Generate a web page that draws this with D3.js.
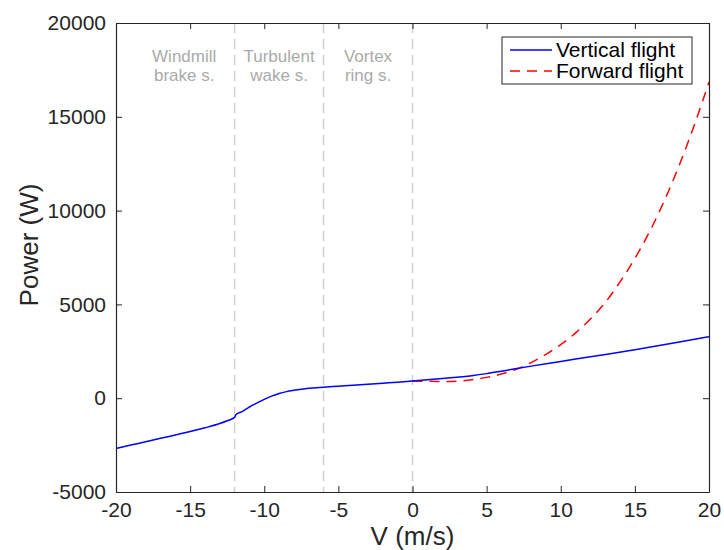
<!DOCTYPE html>
<html lang="en">
<head>
<meta charset="UTF-8">
<title>Power vs V</title>
<script src="https://d3js.org/d3.v7.min.js"></script>
<style>
  body { margin: 0; background: #fff; font-family: "Liberation Sans", Arial, sans-serif; }
</style>
</head>
<body>
<svg id="chart" width="724" height="550"></svg>
<script>
// Vertical flight (V in m/s, P in W)
const vertV = [-20, -19, -18, -17, -16, -15, -14, -13, -12.5, -12, -11.9, -11.5, -11, -10.5, -10, -9.5, -9, -8.5, -8, -7.5, -7, -6, -5, -4, -3, -2, -1, 0, 2, 4, 5, 6, 8, 10, 12, 15, 18, 20];
const vertP = [-2680, -2500, -2320, -2140, -1960, -1780, -1580, -1350, -1200, -1020, -870, -720, -470, -260, -60, 110, 250, 350, 420, 480, 530, 590, 640, 690, 745, 800, 855, 915, 1050, 1200, 1310, 1440, 1710, 1960, 2210, 2580, 2990, 3280];

// Forward flight
const fwdV = [0, 1, 2, 3, 4, 5, 6, 7, 8, 9, 10, 11, 12, 13, 14, 15, 16, 17, 18, 19, 20];
const fwdP = [915, 900, 890, 910, 980, 1110, 1290, 1540, 1900, 2340, 2860, 3480, 4220, 5100, 6200, 7450, 8890, 10550, 12430, 14540, 16850];

// flight-state boundaries and labels
const boundaries = [-12, -6, 0];
const regionLabels = [
  { v: -15.4, lines: ["Windmill", "brake s."] },
  { v: -9, lines: ["Turbulent", "wake s."] },
  { v: -3, lines: ["Vortex", "ring s."] }
];

const xTicks = [-20, -15, -10, -5, 0, 5, 10, 15, 20];
const yTicks = [-5000, 0, 5000, 10000, 15000, 20000];

const margin = { top: 23, right: 15, bottom: 58, left: 116 };
const W = 724, H = 550;
const width = W - margin.left - margin.right;
const height = H - margin.top - margin.bottom;

const svg = d3.select("#chart");
const g = svg.append("g").attr("transform", `translate(${margin.left},${margin.top})`);

const x = d3.scaleLinear().domain([-20, 20]).range([0, width]);
const y = d3.scaleLinear().domain([-5000, 20000]).range([height, 0]);

const axisColor = "#262626";
const fontSize = 21;

// boundary lines
g.selectAll(".bound")
  .data(boundaries)
  .enter().append("line")
  .attr("x1", d => x(d)).attr("x2", d => x(d))
  .attr("y1", 0).attr("y2", height)
  .attr("stroke", "#d0d0d0")
  .attr("stroke-width", 1.5)
  .attr("stroke-dasharray", "10,6");

// region labels, one text per line
regionLabels.forEach(r => {
  r.lines.forEach((s, i) => {
    g.append("text")
      .attr("x", x(r.v))
      .attr("y", 39 + i * 19)
      .attr("text-anchor", "middle")
      .attr("fill", "#aaaaaa")
      .style("font-size", "17px")
      .text(s);
  });
});

// curves
const vertData = vertV.map((v, i) => ({ v, p: vertP[i] }));
const fwdData = fwdV.map((v, i) => ({ v, p: fwdP[i] }));
const line = d3.line().x(d => x(d.v)).y(d => y(d.p)).curve(d3.curveMonotoneX);

g.append("path").datum(fwdData)
  .attr("d", line)
  .attr("fill", "none")
  .attr("stroke", "#ff0000")
  .attr("stroke-width", 1.5)
  .attr("stroke-dasharray", "10,7");

g.append("path").datum(vertData)
  .attr("d", line)
  .attr("fill", "none")
  .attr("stroke", "#0000ff")
  .attr("stroke-width", 1.5);

// axes (box with inward ticks)
function styleAxis(sel) {
  sel.select(".domain").attr("stroke", axisColor).attr("stroke-width", 1.2);
  sel.selectAll(".tick line").attr("stroke", axisColor);
  sel.selectAll(".tick text").attr("fill", axisColor).style("font-size", fontSize + "px")
    .style("font-family", "Liberation Sans, Arial, sans-serif");
}
const plain = d => String(d);

const xAxis = g.append("g").attr("transform", `translate(0,${height})`)
  .call(d3.axisBottom(x).tickValues(xTicks).tickFormat(plain).tickSizeInner(-6).tickSizeOuter(0).tickPadding(10));
styleAxis(xAxis);

const xTop = g.append("g")
  .call(d3.axisTop(x).tickValues(xTicks).tickSizeInner(-6).tickSizeOuter(0).tickFormat(""));
styleAxis(xTop);

const yAxis = g.append("g")
  .call(d3.axisLeft(y).tickValues(yTicks).tickFormat(plain).tickSizeInner(-6).tickSizeOuter(0).tickPadding(10));
styleAxis(yAxis);

const yRight = g.append("g").attr("transform", `translate(${width},0)`)
  .call(d3.axisRight(y).tickValues(yTicks).tickSizeInner(-6).tickSizeOuter(0).tickFormat(""));
styleAxis(yRight);

// axis labels
svg.append("text")
  .attr("x", margin.left + x(0))
  .attr("y", 545)
  .attr("text-anchor", "middle")
  .attr("fill", axisColor)
  .style("font-size", "26px")
  .text("V (m/s)");

svg.append("text")
  .attr("transform", `translate(38,245) rotate(-90)`)
  .attr("text-anchor", "middle")
  .attr("fill", axisColor)
  .style("font-size", "26px")
  .text("Power (W)");

// legend
const legend = g.append("g").attr("transform", `translate(${502 - margin.left},${37 - margin.top})`);
legend.append("rect")
  .attr("width", 190).attr("height", 47)
  .attr("fill", "#fff").attr("stroke", axisColor).attr("stroke-width", 1);
const items = [
  { label: "Vertical flight", color: "#0000ff", dash: null },
  { label: "Forward flight", color: "#ff0000", dash: "10,7" }
];
items.forEach((it, i) => {
  const yy = 13 + i * 21;
  legend.append("line")
    .attr("x1", 8).attr("x2", 50).attr("y1", yy).attr("y2", yy)
    .attr("stroke", it.color).attr("stroke-width", 1.5)
    .attr("stroke-dasharray", it.dash);
  legend.append("text")
    .attr("x", 54).attr("y", yy + 7)
    .attr("fill", "#000")
    .style("font-size", "21px")
    .text(it.label);
});
</script>
</body>
</html>
